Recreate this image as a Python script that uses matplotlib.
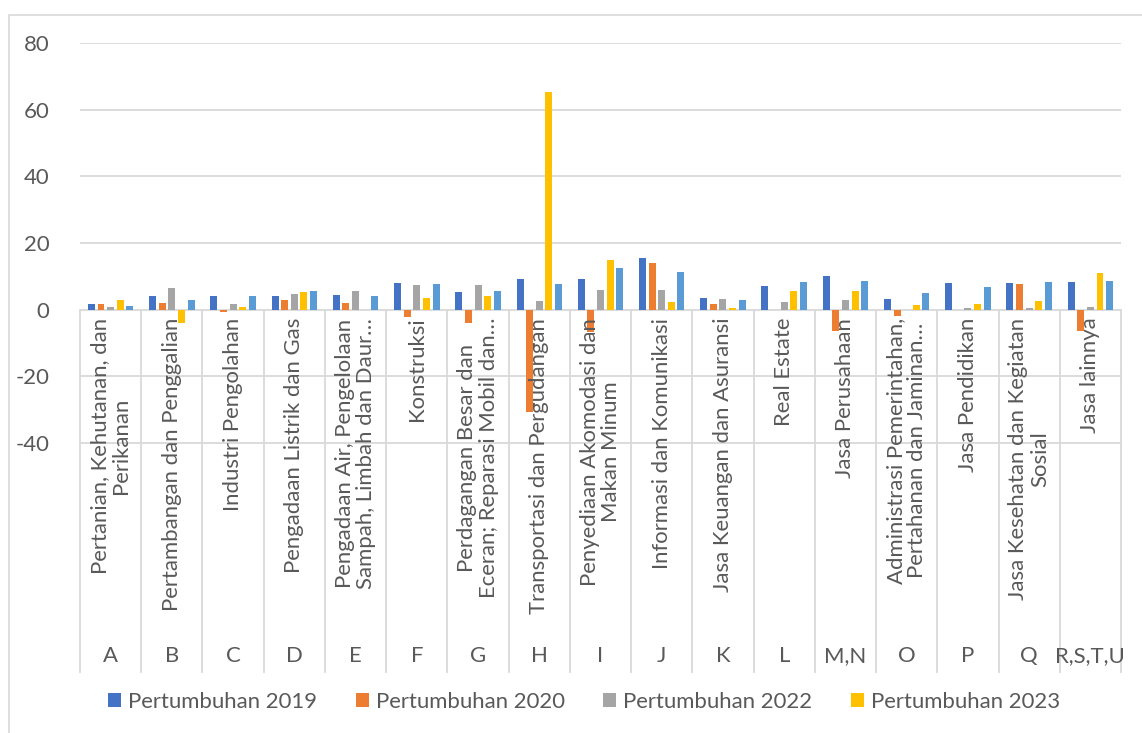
import numpy as np
import matplotlib
matplotlib.use('Agg')
import matplotlib.pyplot as plt
from matplotlib.patches import Patch, Rectangle

# sector codes (second row of the category axis) and sector names (first row)
codes = ['A', 'B', 'C', 'D', 'E', 'F', 'G', 'H', 'I', 'J', 'K', 'L', 'M,N',
         'O', 'P', 'Q', 'R,S,T,U']
sectors = [
    'Pertanian, Kehutanan, dan\nPerikanan',
    'Pertambangan dan Penggalian',
    'Industri Pengolahan',
    'Pengadaan Listrik dan Gas',
    'Pengadaan Air, Pengelolaan\nSampah, Limbah dan Daur\u2026',
    'Konstruksi',
    'Perdagangan Besar dan\nEceran; Reparasi Mobil dan\u2026',
    'Transportasi dan Pergudangan',
    'Penyediaan Akomodasi dan\nMakan Minum',
    'Informasi dan Komunikasi',
    'Jasa Keuangan dan Asuransi',
    'Real Estate',
    'Jasa Perusahaan',
    'Administrasi Pemerintahan,\nPertahanan dan Jaminan\u2026',
    'Jasa Pendidikan',
    'Jasa Kesehatan dan Kegiatan\nSosial',
    'Jasa lainnya',
]

pertumbuhan_2019 = [1.6, 4.1, 4.2, 4.0, 4.5, 8.0, 5.3, 9.1, 9.3, 15.5, 3.5, 7.1, 10.1, 3.3, 8.1, 8.1, 8.2]
pertumbuhan_2020 = [1.7, 2.0, -0.7, 2.8, 1.9, -2.2, -4.0, -30.6, -6.7, 14.0, 1.8, 0.0, -6.4, -1.8, 0.0, 7.6, -6.4]
pertumbuhan_2022 = [0.7, 6.6, 1.8, 4.7, 5.5, 7.4, 7.3, 2.6, 5.8, 5.8, 3.3, 2.2, 2.8, 0.0, 0.4, 0.4, 0.8]
pertumbuhan_2023 = [2.8, -4.1, 0.9, 5.2, 0.0, 3.5, 4.1, 65.3, 14.9, 2.2, 0.4, 5.7, 5.5, 1.4, 1.6, 2.5, 10.9]
pertumbuhan_2021 = [1.1, 3.0, 4.2, 5.7, 4.2, 7.7, 5.7, 7.8, 12.4, 11.2, 2.8, 8.3, 8.7, 5.0, 6.8, 8.2, 8.7]

series = [
    ('Pertumbuhan 2019', pertumbuhan_2019, '#4472C4', True),
    ('Pertumbuhan 2020', pertumbuhan_2020, '#ED7D31', True),
    ('Pertumbuhan 2022', pertumbuhan_2022, '#A5A5A5', True),
    ('Pertumbuhan 2023', pertumbuhan_2023, '#FFC000', True),
    ('Pertumbuhan 2021', pertumbuhan_2021, '#5B9BD5', False),
]

text_color = '#595959'
line_color = '#D9D9D9'
plt.rcParams['font.family'] = ['Lato', 'DejaVu Sans']
fsize = 15.9

W, H = 1142, 733
fig = plt.figure(figsize=(W / 100, H / 100), dpi=100)

# chart area border
fig.add_artist(Rectangle((9 / W, -0.1), 1.2, (H - 15) / H + 0.1,
                         transform=fig.transFigure, fill=False,
                         edgecolor=line_color, linewidth=1.2))

ax = fig.add_axes([80 / W, 1 - 672 / H, (1121 - 80) / W, (672 - 43) / H])
ymin = 80 - (672 - 43) / ((443 - 43) / 120.0)
ax.set_ylim(ymin, 80)
ax.set_xlim(-0.5, len(codes) - 0.5)

ticks = np.arange(-40, 81, 20)
ax.set_yticks(ticks)
ax.set_yticklabels([str(t) for t in ticks], fontsize=fsize, color=text_color)
ax.tick_params(axis='y', length=0, pad=22)
ax.set_xticks([])
for t in ticks:
    ax.axhline(t, color=line_color, linewidth=1.3, zorder=0)
for s in ax.spines.values():
    s.set_visible(False)

x = np.arange(len(codes))
pitch = 0.157
width = 0.114
for k, (name, vals, clr, _) in enumerate(series):
    ax.bar(x + (k - 2) * pitch, vals, width, color=clr, zorder=2)

# category separators of the two-level axis
for i in range(len(codes) + 1):
    ax.plot([i - 0.5, i - 0.5], [0, ymin], color=line_color, linewidth=1.3,
            zorder=1, clip_on=False)

for i, (sec, code) in enumerate(zip(sectors, codes)):
    ax.annotate(sec, (i, 0), xytext=(0, -8), textcoords='offset pixels',
                rotation=90, ha='center', va='top', multialignment='center',
                fontsize=fsize, color=text_color, zorder=3, linespacing=1.1)
    ax.annotate(code, (i, ymin), xytext=(0, 16), textcoords='offset pixels',
                ha='center', va='center', fontsize=fsize, color=text_color)

handles = [Patch(facecolor=clr, label=name) for name, _, clr, shown in series if shown]
fig.legend(handles=handles, loc='center', bbox_to_anchor=(584 / W, 1 - 702 / H),
           ncol=4, frameon=False, fontsize=fsize, labelcolor=text_color,
           handlelength=0.6, handleheight=0.6, handletextpad=0.3,
           columnspacing=1.75)

fig.savefig('out.png', dpi=100)
